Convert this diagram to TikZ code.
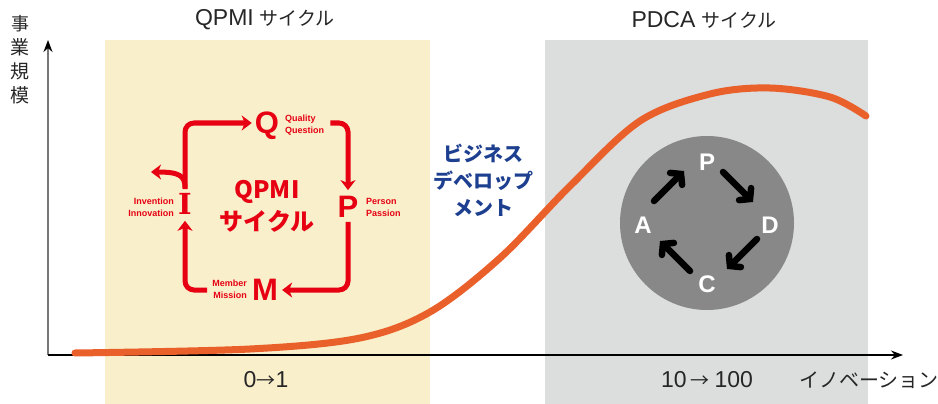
\documentclass[tikz,border=0pt]{standalone}
\usepackage{fontspec}
\setmainfont{Noto Sans CJK JP}
\newfontfamily\lat{Liberation Sans}
\newfontfamily\latserif{DejaVu Serif}
\usetikzlibrary{arrows.meta}
\definecolor{qred}{HTML}{E60012}
\definecolor{ybg}{HTML}{F9EFCB}
\definecolor{gbg}{HTML}{DCDDDD}
\definecolor{curve}{HTML}{E9602B}
\definecolor{bizblue}{HTML}{1D3F8F}
\definecolor{circ}{HTML}{888888}
\definecolor{axisgray}{HTML}{777777}
\newcommand\latbig{\lat\fontsize{23}{24}\selectfont}
\newcommand\jpbig{\fontsize{19}{24}\selectfont}
\tikzset{
  toplabel/.style={font=\jpbig, text=black!85},
  qletter/.style={text=qred, font=\lat\bfseries\fontsize{31}{31}\selectfont, inner sep=0pt},
  qsmall/.style={text=qred, font=\lat\bfseries\fontsize{9}{12}\selectfont, inner sep=0pt},
  qarrow/.style={draw=qred, line width=5pt, rounded corners=9pt, -{Stealth[length=10pt,width=15pt,inset=3pt]}},
  pletter/.style={text=white, font=\lat\bfseries\fontsize{24}{24}\selectfont, inner sep=0pt},
  parrow/.style={draw=black, line width=6.5pt, line cap=round, -{Straight Barb[length=7pt,width=17pt,line cap=round]}},
}
\begin{document}
\begin{tikzpicture}[x=1pt,y=-1pt]
\useasboundingbox (0,0) rectangle (938,404);
% backgrounds
\fill[ybg] (105,40) rectangle (430,404);
\fill[gbg] (545,40) rectangle (868,404);
% section labels
\node[toplabel] (qlab) at (265,20) {{\latbig QPMI}\hspace{6pt}サイクル};
\node[toplabel] (plab) at (704,20) {{\latbig PDCA}\hspace{6pt}サイクル};
\node[toplabel] (r01) at (266,380) {{\latbig 0}→{\latbig 1}};
\node[toplabel] (r10) at (707,380) {{\latbig 10}\hspace{4pt}→\hspace{5pt}{\latbig 100}};
\node[toplabel, font=\fontsize{20}{24}\selectfont] (xlab) at (869,380) {イノベーション};
\node[toplabel, align=center, inner sep=0pt] (ylab) at (20,60) {\fontsize{18}{20}\selectfont 事\\業\\規\\模};
% axes
\coordinate (o) at (48,355);
\coordinate (ytop) at (48,40);
\coordinate (xend) at (903,355);
\draw[axisgray, line width=1.6pt, -{Stealth[length=12pt,width=9pt,color=black]}] (o) -- (ytop);
\draw[black, line width=1.2pt, -{Stealth[length=12pt,width=9pt]}] (o) -- (xend);
% curve
\draw[curve, line width=7pt, line cap=round] plot[smooth, tension=0.55] coordinates {(75,353) (250,349) (360,338) (430,312) (500,258) (570,186) (640,121) (710,94) (770,88) (830,97) (866,116)};
% business development
\node[text=bizblue, font=\bfseries\fontsize{20}{27}\selectfont, align=center] (biz) at (483,180) {ビジネス\\デベロップ\\メント};
% QPMI cycle
\node[qletter] (Q) at (267,126) {Q};
\node[qletter] (P) at (348,207) {P};
\node[qletter] (M) at (265,290) {M};
\node[qletter, font=\latserif\bfseries\fontsize{29}{29}\selectfont] (I) at (185,204) {I};
\node[qsmall, anchor=west, align=left] (qt) at (285,125) {Quality\\Question};
\node[qsmall, anchor=west, align=left] (pt) at (366,207) {Person\\Passion};
\node[qsmall, anchor=east, align=right] (mt) at (247,289) {Member\\Mission};
\node[qsmall, anchor=east, align=right] (it) at (174,207) {Invention\\Innovation};
\node[text=qred, font=\bfseries\fontsize{24}{32}\selectfont, align=center] (qc) at (267,206) {QPMI\\サイクル};
\coordinate (i1) at (185,123);
\coordinate (q1) at (348,123);
\coordinate (p1) at (348,290);
\coordinate (m1) at (185,290);
\draw[qarrow] ([yshift=4pt]I.north) -- (i1) -- ([xshift=-3pt]Q.west |- i1);
\draw[qarrow] ([xshift=6pt]qt.east |- q1) -- (q1) -- ([yshift=6pt]P.north);
\draw[qarrow] ([yshift=-4pt]P.south) -- (p1) -- ([xshift=4pt]M.east |- p1);
\draw[qarrow] ([xshift=-5pt]mt.west |- m1) -- (m1) -- ([yshift=-6pt]I.south);
\coordinate (ibr) at (151,172);
\draw[draw=qred, line width=5pt, -{Stealth[length=10pt,width=15pt,inset=3pt]}] (185,188) .. controls (185,176) and (180,172) .. (ibr);
% PDCA
\node[circle, fill=circ, minimum size=174pt, inner sep=0pt] (circ) at (707,223) {};
\node[pletter] (pp) at (707,162) {P};
\node[pletter] (pd) at (770,225) {D};
\node[pletter] (pc) at (707,284) {C};
\node[pletter] (pa) at (643,225) {A};
\coordinate (a1) at (654,201); \coordinate (a2) at (684,171);
\coordinate (b1) at (723,172); \coordinate (b2) at (753,202);
\coordinate (c1) at (757,239); \coordinate (c2) at (727,269);
\coordinate (d1) at (690,271); \coordinate (d2) at (660,241);
\draw[parrow] (a1) -- (a2);
\draw[parrow] (b1) -- (b2);
\draw[parrow] (c1) -- (c2);
\draw[parrow] (d1) -- (d2);
\end{tikzpicture}
\end{document}
